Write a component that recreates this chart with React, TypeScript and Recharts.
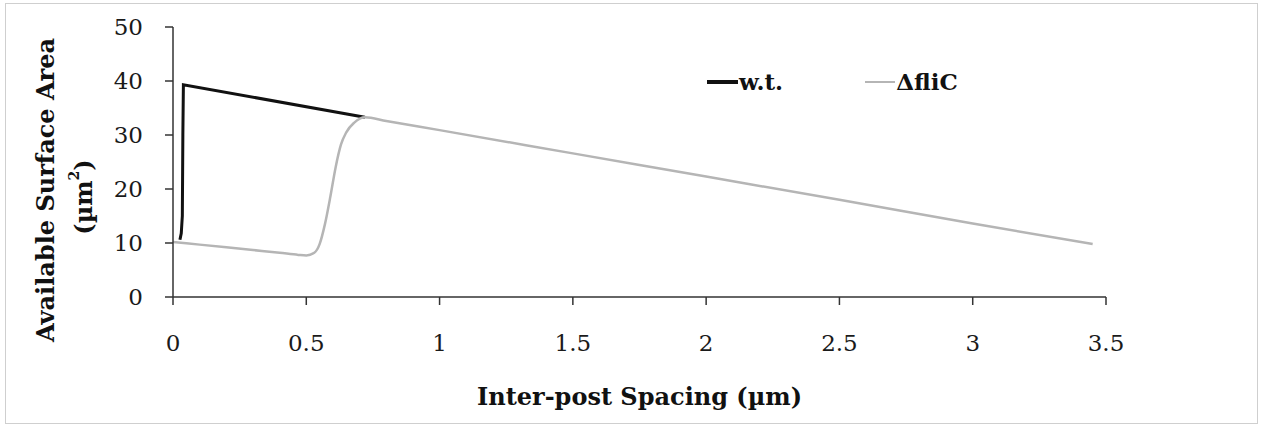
import React from 'react';
import { LineChart, Line, XAxis, YAxis } from 'recharts';

// wild type: steep rise near zero, then linear decline
const wtX = [0.026, 0.031, 0.035, 0.037, 0.039, 0.72];
const wtY = [10.6, 11.8, 15, 30, 39.3, 33.3];

// ΔfliC mutant: dip, sigmoid rise, then merges with w.t. line
const fliX = [0, 0.1, 0.2, 0.3, 0.4, 0.47, 0.5, 0.53, 0.55, 0.57, 0.59, 0.61, 0.63, 0.65, 0.68, 0.72, 0.8, 1, 1.5, 2, 2.5, 3, 3.45];
const fliY = [10.2, 9.7, 9.2, 8.7, 8.2, 7.8, 7.7, 8.2, 9.8, 13.5, 18.5, 24, 28.2, 30.5, 32.3, 33.3, 32.6, 30.9, 26.6, 22.3, 18, 13.6, 9.8];

const xTicks = [0, 0.5, 1, 1.5, 2, 2.5, 3, 3.5];
const yTicks = [0, 10, 20, 30, 40, 50];

const wtData = wtX.map((x, i) => ({ x, y: wtY[i] }));
const fliData = fliX.map((x, i) => ({ x, y: fliY[i] }));

const FONT = '"DejaVu Serif", "Liberation Serif", serif';
const BLACK = '#111111';
const GRAY = '#b5b5b5';

const tickStyle = { fill: '#1a1a1a', fontSize: 23, fontFamily: FONT };

const LegendBox = () => (
  <div
    style={{
      position: 'absolute', left: 707, top: 68, display: 'flex', alignItems: 'center',
      fontFamily: FONT, fontWeight: 'bold', fontSize: 23, color: '#111',
    }}
  >
    <span style={{ display: 'inline-block', width: 31, height: 4, background: BLACK }} />
    <span style={{ marginLeft: 1 }}>w.t.</span>
    <span style={{ display: 'inline-block', width: 30, height: 2, background: GRAY, marginLeft: 82 }} />
    <span style={{ marginLeft: 1 }}>ΔfliC</span>
  </div>
);

const App = () => {
  return (
    <div style={{ position: 'absolute', left: 0, top: 0, width: 1262, height: 427, background: '#fff' }}>
      <div style={{ position: 'absolute', left: 5, top: 3, width: 1251, height: 419, border: '1px solid #cfcfcf' }} />
      <LineChart width={1262} height={427} margin={{ top: 27, right: 156, left: 73, bottom: 70 }}>
        <XAxis
          dataKey="x"
          type="number"
          domain={[0, 3.5]}
          ticks={xTicks}
          allowDataOverflow
          stroke="#333"
          strokeWidth={1.5}
          tickSize={8}
          tickMargin={30}
          height={60}
          tick={tickStyle}
          label={{
            content: ({ viewBox }: any) => (
              <text
                x={viewBox.x + viewBox.width / 2}
                y={405}
                textAnchor="middle"
                fontFamily={FONT}
                fontWeight="bold"
                fontSize={24}
                fill="#111"
              >
                Inter-post Spacing (µm)
              </text>
            ),
          }}
        />
        <YAxis
          dataKey="y"
          type="number"
          domain={[0, 50]}
          ticks={yTicks}
          stroke="#333"
          strokeWidth={1.5}
          tickSize={8}
          tickMargin={22}
          width={100}
          tick={tickStyle}
          label={{
            content: () => (
              <g fontFamily={FONT} fontWeight="bold" fontSize={24} fill="#111">
                <text x={45} y={190} textAnchor="middle" dominantBaseline="central" transform="rotate(-90, 45, 190)">
                  Available Surface Area
                </text>
                <text x={83} y={197} textAnchor="middle" dominantBaseline="central" transform="rotate(-90, 83, 197)">
                  (µm<tspan fontSize={14} dy={-9}>2</tspan><tspan dy={9}>)</tspan>
                </text>
              </g>
            ),
          }}
        />
        <Line
          data={wtData}
          dataKey="y"
          type="linear"
          stroke={BLACK}
          strokeWidth={3}
          dot={false}
          isAnimationActive={false}
        />
        <Line
          data={fliData}
          dataKey="y"
          type="monotone"
          stroke={GRAY}
          strokeWidth={2.5}
          dot={false}
          isAnimationActive={false}
        />
      </LineChart>
      <LegendBox />
    </div>
  );
};

export default App;
